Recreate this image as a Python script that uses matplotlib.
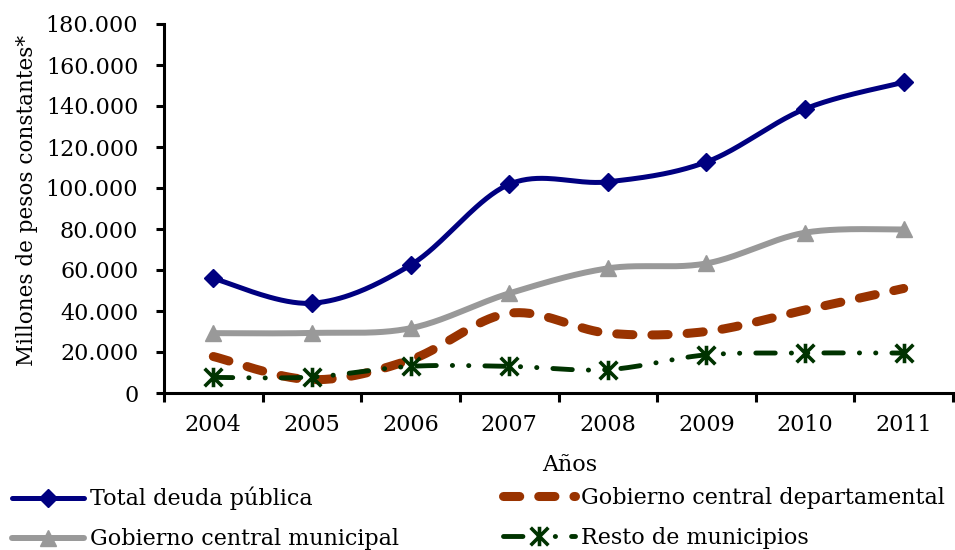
import numpy as np
import matplotlib
matplotlib.use("Agg")
import matplotlib.pyplot as plt
from matplotlib.lines import Line2D
from matplotlib.path import Path
from matplotlib.ticker import FuncFormatter, FixedLocator

plt.rcParams['font.family'] = ['DejaVu Serif']

years = ["2004", "2005", "2006", "2007", "2008", "2009", "2010", "2011"]
total = [55900, 43800, 62400, 101800, 103000, 112700, 138600, 151600]
departamental = [17800, 6500, 16200, 38900, 29200, 30000, 40500, 51000]
municipal = [29200, 29300, 31600, 48600, 60800, 63200, 78200, 79800]
resto = [7600, 7800, 13000, 13000, 11400, 18600, 19500, 19500]

labels = ["Total deuda pública", "Gobierno central departamental",
          "Gobierno central municipal", "Resto de municipios"]
yticks = list(range(0, 180001, 20000))


def smooth(x, y, n=40):
    P = np.column_stack([np.asarray(x, float), np.asarray(y, float)])
    out = []
    m = len(P)
    t = np.linspace(0, 1, n)[:, None]
    for i in range(m - 1):
        p0 = P[max(i - 1, 0)]
        p1 = P[i]
        p2 = P[i + 1]
        p3 = P[min(i + 2, m - 1)]
        c1 = p1 + (p2 - p0) / 6.0
        c2 = p2 - (p3 - p1) / 6.0
        B = ((1 - t) ** 3) * p1 + 3 * ((1 - t) ** 2) * t * c1 + 3 * (1 - t) * (t ** 2) * c2 + (t ** 3) * p2
        out.append(B if i == 0 else B[1:])
    S = np.vstack(out)
    return S[:, 0], S[:, 1]


star = Path([(-1, -1), (1, 1), (-1, 1), (1, -1), (0, -1.1), (0, 1.1)],
            [Path.MOVETO, Path.LINETO, Path.MOVETO, Path.LINETO, Path.MOVETO, Path.LINETO])

styles = [
    dict(color="#000080", lw=3.6, ls="-", marker="D", ms=9, mew=1, mfc="#000080", mec="#000080"),
    dict(color="#993300", lw=6.5, ls=(0, (1.8, 2.1)), marker=None, ms=0, mew=0, mfc="none", mec="#993300"),
    dict(color="#999999", lw=4.3, ls="-", marker="^", ms=12, mew=1, mfc="#999999", mec="#999999"),
    dict(color="#003300", lw=3.5, ls=(0, (4, 3.3, 0.05, 3.3, 0.05, 3.3)), marker=star, ms=14, mew=2.6,
         mfc="none", mec="#003300"),
]
series = [total, departamental, municipal, resto]

FS = 16

fig = plt.figure(figsize=(9.55, 5.5), dpi=100)
ax = fig.add_axes([164 / 955, 1 - 393 / 550, (953 - 164) / 955, (393 - 24) / 550])

x = np.arange(len(years))
handles = []
for i, (vals, st) in enumerate(zip(series, styles)):
    sx, sy = smooth(x, vals)
    ax.plot(sx, sy, color=st["color"], lw=st["lw"], ls=st["ls"],
            solid_capstyle="round", dash_capstyle="round", zorder=2 + i, clip_on=False)
    if st["marker"] is not None:
        ax.plot(x, vals, ls="none", marker=st["marker"], ms=st["ms"], mew=st["mew"],
                mfc=st["mfc"], mec=st["mec"], zorder=2.5 + i, clip_on=False)
    h = Line2D([], [], color=st["color"], lw=st["lw"], ls=st["ls"],
               marker=st["marker"] if st["marker"] is not None else None,
               ms=st["ms"], mew=st["mew"], mfc=st["mfc"], mec=st["mec"],
               solid_capstyle="round", dash_capstyle="round")
    handles.append(h)

ax.set_xlim(-0.5, len(years) - 0.5)
ax.set_ylim(0, 180000)
ax.set_yticks(yticks)
ax.yaxis.set_major_formatter(FuncFormatter(lambda v, p: f"{int(v):,}".replace(",", ".")))
ax.set_xticks(x)
ax.set_xticklabels(years)
ax.xaxis.set_minor_locator(FixedLocator(np.arange(-0.5, len(years), 1.0)))

for s in ["top", "right"]:
    ax.spines[s].set_visible(False)
for s in ["left", "bottom"]:
    ax.spines[s].set_linewidth(2.2)
    ax.spines[s].set_color("black")

ax.tick_params(axis="y", which="major", direction="out", length=5.5, width=2.2,
               labelsize=FS, pad=13)
ax.tick_params(axis="x", which="major", length=0, labelsize=FS, pad=15)
ax.tick_params(axis="x", which="minor", direction="out", length=6.5, width=2.2)

ax.set_ylabel("Millones de pesos constantes*", fontsize=15.5)
ax.yaxis.set_label_coords((38 - 164) / 789, (393 - 200) / 369)

fig.text(570 / 955, 1 - 465 / 550, "Años", fontsize=FS, ha="center", va="center")

leg_kw = dict(frameon=False, fontsize=FS, handlelength=3.25, handletextpad=0.25,
              labelspacing=0.8, borderpad=0, borderaxespad=0, numpoints=1, loc="upper left")
l1 = fig.legend([handles[0], handles[2]], [labels[0], labels[2]],
                bbox_to_anchor=(12 / 955, 1 - 487 / 550), **leg_kw)
l2 = fig.legend([handles[1], handles[3]], [labels[1], labels[3]],
                bbox_to_anchor=(503 / 955, 1 - 487 / 550), **leg_kw)

fig.savefig("out.png", dpi=100)
